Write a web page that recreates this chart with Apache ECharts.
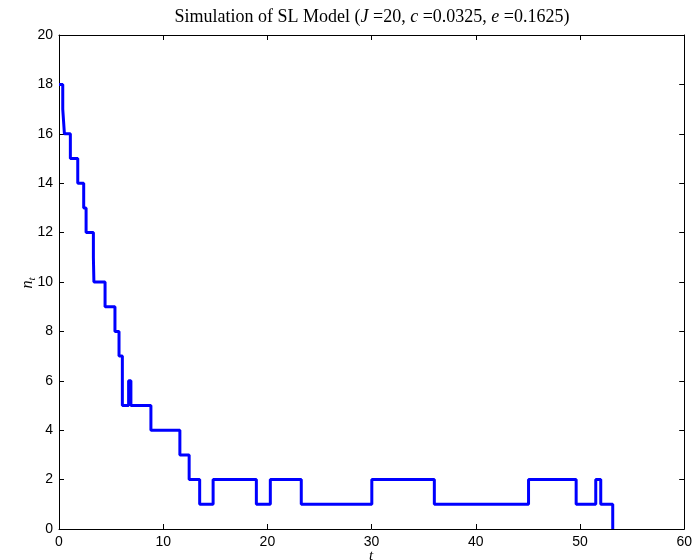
<!DOCTYPE html>
<html>
<head>
<meta charset="utf-8">
<script src="https://cdn.jsdelivr.net/npm/echarts@6/dist/echarts.min.js"></script>
<style>
  html, body { margin: 0; padding: 0; background: #fff; }
  #chart { width: 695px; height: 560px; }
</style>
</head>
<body>
<div id="chart"></div>
<script>
// jump times of the simulation and the count n_t right after each jump
const jumpTimes = [0, 0.36, 0.52, 1.09, 1.8, 2.37, 2.6, 3.3, 3.35, 4.42, 5.37, 5.76, 6.08, 6.68, 6.9,
  8.82, 11.6, 12.49, 13.5, 14.79, 18.94, 20.28, 23.25, 30.02, 36.02, 45.06, 49.63, 51.51, 51.99, 53.14];
const counts = [18, 17, 16, 15, 14, 13, 12, 11, 10, 9, 8, 7, 5, 6, 5,
  4, 3, 2, 1, 2, 1, 2, 1, 2, 1, 2, 1, 2, 1, 0];

const xTicks = [0, 10, 20, 30, 40, 50, 60];
const yTicks = [0, 2, 4, 6, 8, 10, 12, 14, 16, 18, 20];

const sans = '"Liberation Sans", Arial, Helvetica, sans-serif';
const serif = '"Liberation Serif", "DejaVu Serif", serif';

const chart = echarts.init(document.getElementById('chart'));

const axisLine = { show: true, onZero: false, lineStyle: { color: '#000', width: 1 } };
const tickIn = { show: true, inside: true, length: 5, lineStyle: { color: '#000', width: 1 } };
const tickLabel = { color: '#000', fontFamily: sans, fontSize: 14, margin: 6 };

chart.setOption({
  animation: false,
  backgroundColor: '#fff',
  grid: { left: 59, right: 10, top: 35, bottom: 31 },
  xAxis: [
    {
      type: 'value', min: xTicks[0], max: xTicks[xTicks.length - 1], interval: 10,
      axisLine: axisLine, axisTick: tickIn, splitLine: { show: false },
      axisLabel: tickLabel
    },
    {
      type: 'value', position: 'top', min: xTicks[0], max: xTicks[xTicks.length - 1], interval: 10,
      axisLine: axisLine, axisTick: tickIn, splitLine: { show: false },
      axisLabel: { show: false }
    }
  ],
  yAxis: [
    {
      type: 'value', min: yTicks[0], max: yTicks[yTicks.length - 1], interval: 2,
      axisLine: axisLine, axisTick: tickIn, splitLine: { show: false },
      axisLabel: tickLabel
    },
    {
      type: 'value', position: 'right', min: yTicks[0], max: yTicks[yTicks.length - 1], interval: 2,
      axisLine: axisLine, axisTick: tickIn, splitLine: { show: false },
      axisLabel: { show: false }
    }
  ],
  series: [{
    type: 'line',
    step: 'end',
    data: jumpTimes.map((t, i) => [t, counts[i]]),
    showSymbol: false,
    lineStyle: { color: '#0000ff', width: 3 },
    z: 1
  }],
  graphic: [
    {
      type: 'text', x: 372, y: 17,
      style: {
        text: '{r|Simulation of SL Model (}{i|J}{r| =20, }{i|c}{r| =0.0325, }{i|e}{r| =0.1625)}',
        align: 'center', verticalAlign: 'middle', fill: '#000',
        rich: {
          r: { fontFamily: serif, fontSize: 18, fill: '#000' },
          i: { fontFamily: serif, fontSize: 18, fontStyle: 'italic', fill: '#000' }
        }
      }
    },
    {
      type: 'text', x: 28, y: 283, rotation: Math.PI / 2,
      style: {
        text: '{i|n}{s|t}',
        align: 'center', verticalAlign: 'middle', fill: '#000',
        rich: {
          i: { fontFamily: serif, fontSize: 16, fontStyle: 'italic', fill: '#000' },
          s: { fontFamily: serif, fontSize: 11, fontStyle: 'italic', fill: '#000', padding: [8, 0, 0, 0] }
        }
      }
    },
    {
      type: 'text', x: 371, y: 556,
      style: {
        text: 't', align: 'center', verticalAlign: 'middle', fill: '#000',
        fontFamily: serif, fontSize: 15, fontStyle: 'italic'
      }
    }
  ]
});
</script>
</body>
</html>
